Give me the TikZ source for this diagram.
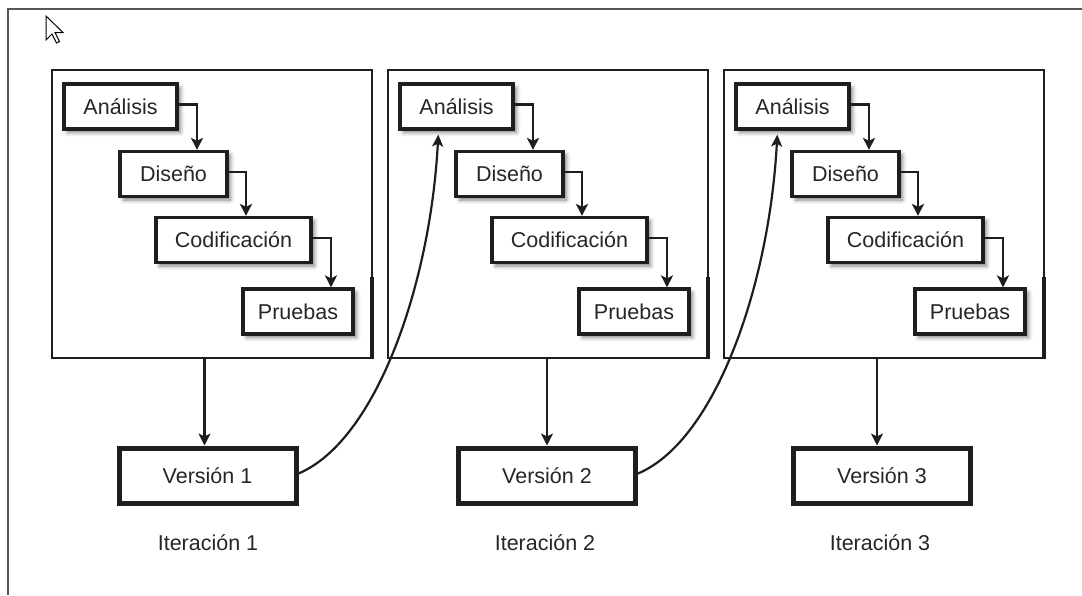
\documentclass[tikz,border=0pt]{standalone}
\usepackage{fontspec}
\setmainfont{Liberation Sans}
\usetikzlibrary{arrows.meta,shadows.blur}
\definecolor{ink}{HTML}{1E1E1E}
\definecolor{framec}{HTML}{555555}
\definecolor{txt}{HTML}{262626}
\tikzset{
  stepbox/.style={draw=ink, line width=3.2pt, fill=white, text=txt, inner sep=0pt,
    minimum height=45pt, font=\fontsize{21.5}{24}\selectfont,
    blur shadow={shadow xshift=3.5pt, shadow yshift=-3.5pt, shadow blur radius=4pt, shadow opacity=50}},
  panel/.style={draw=ink, line width=2.6pt, minimum width=320pt, minimum height=288pt, inner sep=0pt},
  verbox/.style={draw=ink, line width=5pt, fill=white, text=txt, minimum width=177pt,
    minimum height=55pt, inner sep=0pt, font=\fontsize{21.5}{24}\selectfont},
  lbl/.style={text=txt, inner sep=0pt, font=\fontsize{21.5}{24}\selectfont},
  arr/.style={draw=ink, line width=2.6pt, -{Stealth[length=12pt,width=12pt,inset=3pt]}},
  curvearr/.style={draw=ink, line width=2.2pt, -{Stealth[length=12pt,width=11pt,inset=3pt]}, shorten >=4pt},
}
\begin{document}
\begin{tikzpicture}[x=1pt,y=-1pt]
\useasboundingbox (0,0) rectangle (1082,595);
% outer frame (top and left only)
\draw[framec, line width=2.4pt] (1082,9) -- (8,9) -- (8,595);
% mouse cursor
\draw[fill=white, line width=1pt, line join=miter] (46,16) -- ++(0,24) -- ++(6,-6) -- ++(4.5,9) -- ++(3,-1.5) -- ++(-4.5,-9) -- ++(8,0) -- cycle;

\foreach \i/\ox in {1/52, 2/388, 3/724}{
  \node[panel] (p\i) at (\ox+160,214) {};
  \draw[ink, line width=4.5pt] (\ox+320,277) -- (\ox+320,359);
  \node[stepbox, minimum width=113pt] (a\i) at (\ox+68.5,106.5) {Análisis};
  \node[stepbox, minimum width=107pt] (d\i) at (\ox+121.5,174) {Diseño};
  \node[stepbox, minimum width=155pt] (c\i) at (\ox+181.5,240) {Codificación};
  \node[stepbox, minimum width=110pt] (r\i) at (\ox+246,311.5) {Pruebas};
  \draw[arr] ([yshift=2pt]a\i.east) -| ([xshift=23.5pt]d\i.north);
  \draw[arr] ([yshift=2pt]d\i.east) -| ([xshift=12.5pt]c\i.north);
  \draw[arr] ([yshift=2pt]c\i.east) -| ([xshift=33pt]r\i.north);
}

\node[verbox] (v1) at (207.5,475.5) {Versión 1};
\node[verbox] (v2) at (547,475.5) {Versión 2};
\node[verbox] (v3) at (882,475.5) {Versión 3};

\draw[arr] ([xshift=-3pt]v1.north |- p1.south) -- ([xshift=-3pt]v1.north);
\draw[arr] (v2.north |- p2.south) -- (v2.north);
\draw[arr] ([xshift=-5pt]v3.north |- p3.south) -- ([xshift=-5pt]v3.north);

\draw[curvearr] ([yshift=2pt]v1.east) .. controls +(78,-33) and +(-8,153) .. ([xshift=-18pt]a2.south);
\draw[curvearr] ([yshift=2pt]v2.east) .. controls +(78,-33) and +(-8,153) .. ([xshift=-15pt]a3.south);

\node[lbl] (it1) at (208,543) {Iteración 1};
\node[lbl] (it2) at (545,543) {Iteración 2};
\node[lbl] (it3) at (880,543) {Iteración 3};
\end{tikzpicture}
\end{document}
